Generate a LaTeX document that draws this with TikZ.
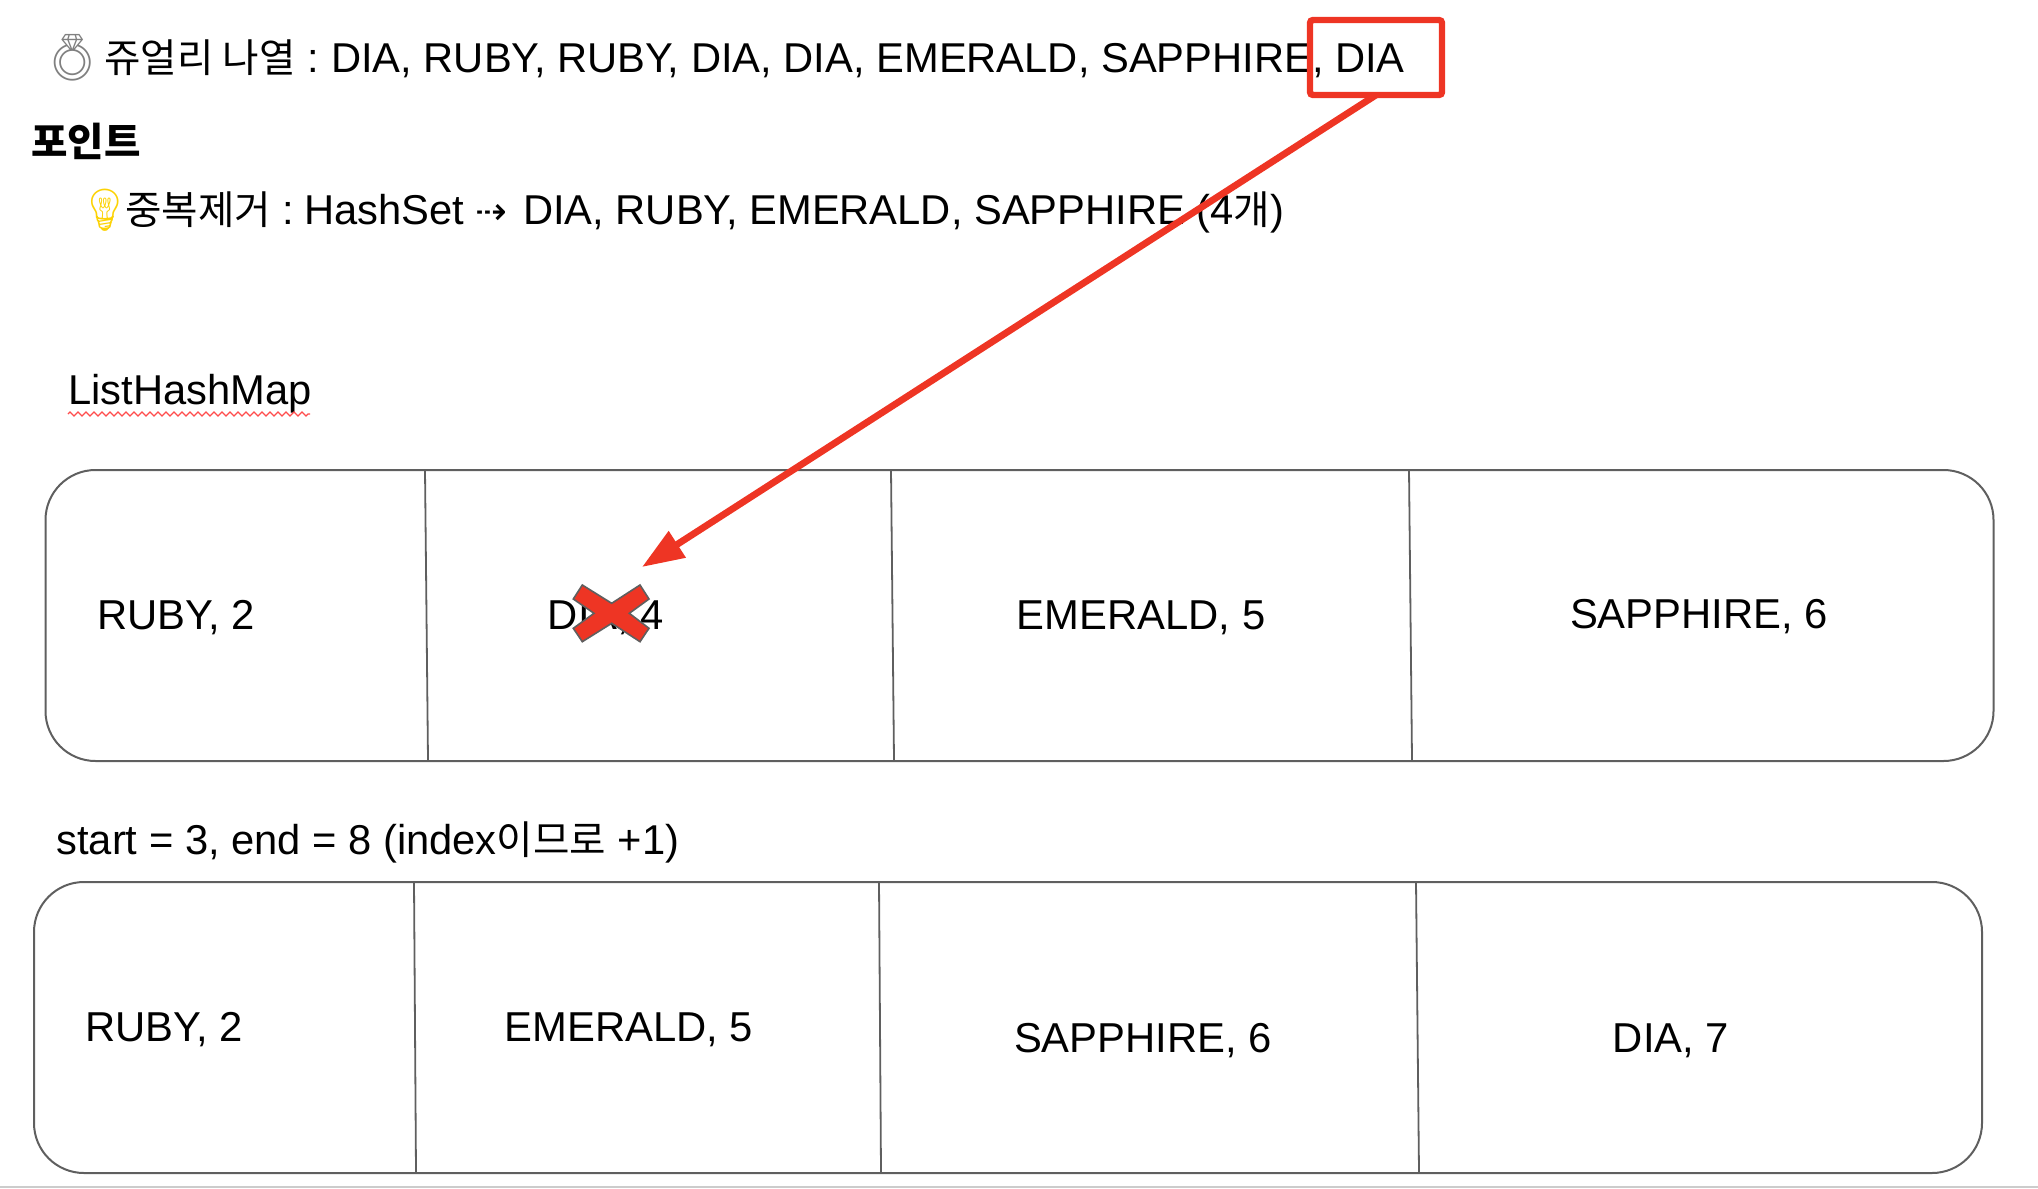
\documentclass[tikz,border=0pt]{standalone}
\usepackage{fontspec}
\setmainfont{Liberation Sans}
\newfontfamily\krfont[Scale=0.95]{Noto Sans CJK KR}
\newfontfamily\emojifont{Noto Emoji}
\newfontfamily\symfont{DejaVu Sans}
\usetikzlibrary{arrows.meta,positioning,decorations.pathmorphing}
\definecolor{markred}{HTML}{EE3524}
\definecolor{boxgray}{HTML}{5F5F5F}
\tikzset{
    line/.style={
    anchor=base west,inner sep=0pt,font=\fontsize{20.85}{24}\selectfont
    },
    cell/.style={
    anchor=base,inner sep=0pt,font=\fontsize{20.9}{24}\selectfont
    },
    listbox/.style={
    rectangle,rounded corners=25pt,draw=boxgray,line width=1pt,inner sep=0pt,outer sep=0pt,
    minimum width=974pt,minimum height=145.5pt,anchor=north west
    },
    divider/.style={
    draw=boxgray,line width=0.9pt
    },
    markbox/.style={
    rectangle,rounded corners=1.5pt,draw=markred,line width=3.2pt,inner sep=0pt,outer sep=0pt,
    minimum width=66pt,minimum height=37.5pt,anchor=north west
    },
    markarrow/.style={
    draw=markred,line width=3.4pt,-{Triangle[length=21pt,width=15pt]}
    },
}

\begin{document}
\begin{tikzpicture}[x=0.5pt,y=-0.5pt]
   \useasboundingbox (0,0) rectangle (2038,1188);
   \fill[black!20] (0,1186) rectangle (2038,1188);
   % heading lines
   \node[line,text=gray] (ring) at (43,74) {\fontsize{23}{24}\selectfont\emojifont\symbol{"1F48D}};
   \node[line] (jewels) at (104,73) {{\krfont 쥬얼리 나열} :\kern-1.5pt{} DIA, RUBY, RUBY, DIA, DIA, EMERALD, SAPPHIRE, DIA};
   \node[line] (point) at (31,156) {\krfont\bfseries 포인트};
   \node[line,text=yellow!70!orange] (bulb) at (78,224) {\emojifont\symbol{"1F4A1}};
   \node[line] (dedup) at (125,224) {{\krfont 중복제거} :\kern-2.8pt{} HashSet {\symfont\fontsize{19}{20}\selectfont ⇢}\kern2pt{} DIA, RUBY, EMERALD, SAPPHIRE (4{\krfont 개})};
   \node[line] (listname) at (68,404) {ListHashMap};
   \draw[red!70!white,line width=0.6pt,decorate,decoration={zigzag,amplitude=1pt,segment length=4pt}]
     (68,414) -- (310,414);

   % first list
   \node[listbox] (first) at (45.5,470) {};
   \foreach \xa/\xb in {425/428,891/894,1409/1412}
     \draw[divider] (\xa,470) -- (\xb,760);
   \node[cell] (ruby) at (176,629) {RUBY, 2};
   \node[cell] (dia) at (606,629) {DIA, 4};
   \node[cell] (emerald) at (1141,629) {EMERALD, 5};
   \node[cell] (sapphire) at (1699,628) {SAPPHIRE, 6};

   % second list
   \node[line] (range) at (56,854) {start = 3, end = 8 (index{\krfont 이므로} +1)};
   \node[listbox] (second) at (34,882) {};
   \foreach \xa/\xb in {414/416,879/881,1416/1419}
     \draw[divider] (\xa,882) -- (\xb,1172);
   \node[cell] (rubyb) at (164,1041) {RUBY, 2};
   \node[cell] (emeraldb) at (629,1041) {EMERALD, 5};
   \node[cell] (sapphireb) at (1143,1052) {SAPPHIRE, 6};
   \node[cell] (diab) at (1671,1052) {DIA, 7};

   % red marks
   \node[markbox] (last) at (1310,20) {};
   \coordinate (tip) at (642,567);
   \draw[markarrow] (last.south) -- (tip);
   \draw[fill=markred,draw=boxgray,line width=0.8pt,line join=miter]
     (582.3,585) -- (611.7,603.3) -- (640,585) -- (649,599) -- (629.3,613.3) -- (649,628.3)
     -- (640,641.7) -- (611.7,623.3) -- (582.3,641.7) -- (573.3,628.3) -- (594,613.3) -- (573.3,599) -- cycle;
\end{tikzpicture}
\end{document}
